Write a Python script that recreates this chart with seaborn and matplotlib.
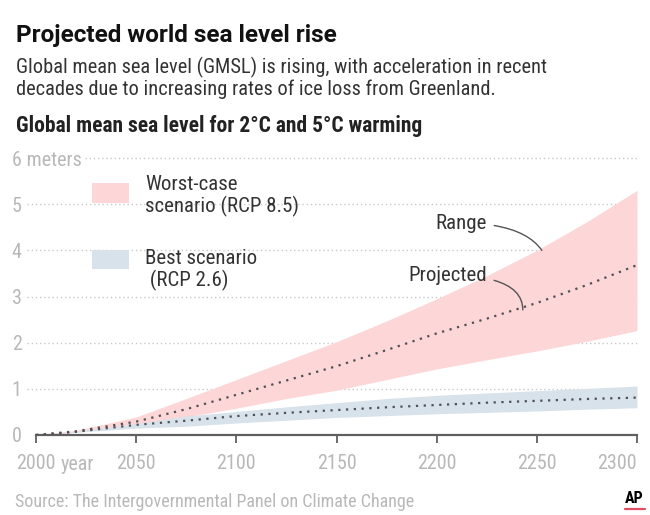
import matplotlib
matplotlib.use("Agg")
import matplotlib.pyplot as plt
import seaborn as sns
import pandas as pd
from matplotlib import font_manager

# ---- data ----
years = [2000, 2020, 2050, 2075, 2100, 2125, 2150, 2175, 2200, 2225, 2250, 2275, 2300]
worst_mid = [0.0, 0.08, 0.29, 0.56, 0.87, 1.18, 1.49, 1.84, 2.20, 2.52, 2.86, 3.25, 3.68]
worst_low = [0.0, 0.06, 0.20, 0.39, 0.58, 0.79, 0.97, 1.20, 1.43, 1.63, 1.82, 2.03, 2.26]
worst_high = [0.0, 0.10, 0.39, 0.79, 1.20, 1.61, 2.02, 2.47, 2.95, 3.45, 4.00, 4.62, 5.30]
best_mid = [0.0, 0.07, 0.22, 0.31, 0.41, 0.48, 0.54, 0.60, 0.65, 0.70, 0.74, 0.78, 0.81]
best_low = [0.0, 0.06, 0.15, 0.19, 0.26, 0.32, 0.38, 0.42, 0.46, 0.49, 0.52, 0.56, 0.59]
best_high = [0.0, 0.08, 0.25, 0.41, 0.51, 0.61, 0.70, 0.79, 0.86, 0.91, 0.96, 1.01, 1.06]
x_ticks = [2000, 2050, 2100, 2150, 2200, 2250, 2300]
y_ticks = [0, 1, 2, 3, 4, 5, 6]
y_labels = ["0", "1", "2", "3", "4", "5", "6 meters"]

df = pd.DataFrame({"year": years, "worst": worst_mid, "best": best_mid})

sns.set_style("white")
names = {f.name for f in font_manager.fontManager.ttflist}
fam = [n for n in ["Liberation Sans Narrow", "Roboto Condensed", "Liberation Sans", "DejaVu Sans"] if n in names]
wide = [n for n in ["Roboto", "Liberation Sans", "DejaVu Sans"] if n in names]
plt.rcParams["font.family"] = fam

PINK = "#fdd6d7"
BLUE = "#d7e2eb"
DOT = "#4e5055"
GRAY = "#b8b8b8"

fig = plt.figure(figsize=(6.5, 5.15), dpi=100)
ax = fig.add_axes([36 / 650, 80 / 515, 601 / 650, 277 / 515])
ax.set_xlim(2000, 2300)
ax.set_ylim(0, 6)

# gridlines
for v in y_ticks[1:]:
    x0 = 2024.5 if v == 6 else 1995.5
    ax.plot([x0, 2300], [v, v], color="#c9c9c9", lw=1.0, ls=(0, (1, 2)),
            clip_on=False, zorder=0)

ax.fill_between(years, worst_low, worst_high, color=PINK, lw=0, zorder=1)
ax.fill_between(years, best_low, best_high, color=BLUE, lw=0, zorder=2)

sns.lineplot(data=df, x="year", y="worst", ax=ax, color=DOT,
             lw=1.6, ls=(0, (1, 2.5)), zorder=3)
sns.lineplot(data=df, x="year", y="best", ax=ax, color=DOT,
             lw=1.6, ls=(0, (1, 2.5)), zorder=3)

# axes styling
for s in ["top", "right", "left"]:
    ax.spines[s].set_visible(False)
ax.spines["bottom"].set_color("#5f5f5f")
ax.spines["bottom"].set_linewidth(1.6)
ax.set_xticks(x_ticks)
ax.set_xticklabels([str(t) for t in x_ticks])
ax.tick_params(axis="x", direction="out", length=6, width=1.3, color="#5f5f5f",
               labelsize=14.5, labelcolor=GRAY, pad=8, bottom=True)
ax.get_xticklabels()[0].set_x(2002)
ax.get_xticklabels()[-1].set_ha("right")
ax.get_xticklabels()[-1].set_x(2302)
ax.set_yticks(y_ticks)
ax.set_yticklabels(y_labels, ha="left")
ax.tick_params(axis="y", length=0, labelsize=14.5, labelcolor=GRAY, pad=17.5)
ax.set_xlabel("")
ax.set_ylabel("")
ax.text(61 / 650, 1 - 470 / 515, "year", transform=fig.transFigure, fontsize=14.5,
        color=GRAY, ha="left", va="baseline")

# legend (patches + text)
fig.patches.append(plt.Rectangle((92 / 650, 1 - 203 / 515), 37 / 650, 20 / 515,
                                 transform=fig.transFigure, color=PINK, lw=0))
fig.patches.append(plt.Rectangle((92 / 650, 1 - 269 / 515), 37 / 650, 19 / 515,
                                 transform=fig.transFigure, color=BLUE, lw=0))
fig.text(145 / 650, 1 - 196 / 515, "Worst-case\nscenario (RCP 8.5)", fontsize=15,
         color="#333333", ha="left", va="center", linespacing=1.15)
fig.text(145 / 650, 1 - 270 / 515, "Best scenario\n (RCP 2.6)", fontsize=15,
         color="#333333", ha="left", va="center", linespacing=1.15)

# annotations
ax.annotate("Range", xy=(2252.5, 4.0), xytext=(2225, 4.59), fontsize=15, color="#333333",
            ha="right", va="center",
            arrowprops=dict(arrowstyle="-", color="#555555", lw=1,
                            connectionstyle="angle3,angleA=0,angleB=-55",
                            shrinkA=3, shrinkB=0))
ax.annotate("Projected", xy=(2243, 2.71), xytext=(2225, 3.46), fontsize=15, color="#333333",
            ha="right", va="center",
            arrowprops=dict(arrowstyle="-", color="#555555", lw=1,
                            connectionstyle="angle3,angleA=0,angleB=90",
                            shrinkA=3, shrinkB=0))

# titles
fig.text(16 / 650, 1 - 42 / 515, "Projected world sea level rise", fontsize=17.5,
         fontweight="bold", color="#111111", ha="left", va="baseline", family=wide)
fig.text(16 / 650, 1 - 73 / 515,
         "Global mean sea level (GMSL) is rising, with acceleration in recent",
         fontsize=14.7, color="#333333", ha="left", va="baseline")
fig.text(16 / 650, 1 - 95 / 515,
         "decades due to increasing rates of ice loss from Greenland.",
         fontsize=14.7, color="#333333", ha="left", va="baseline")
fig.text(16 / 650, 1 - 132 / 515, "Global mean sea level for 2°C and 5°C warming",
         fontsize=15.5, fontweight="bold", color="#222222", ha="left", va="baseline")

fig.text(15 / 650, 1 - 507 / 515, "Source: The Intergovernmental Panel on Climate Change",
         fontsize=13, color=GRAY, ha="left", va="baseline")
fig.text(634 / 650, 1 - 503 / 515, "AP", fontsize=11.5, fontweight="bold",
         color="#000000", ha="center", va="baseline")
fig.lines.append(plt.Line2D([625 / 650, 645 / 650], [1 - 509 / 515, 1 - 509 / 515],
                            transform=fig.transFigure, color="#e05060", lw=1.6))

fig.savefig("out.png", dpi=100)
